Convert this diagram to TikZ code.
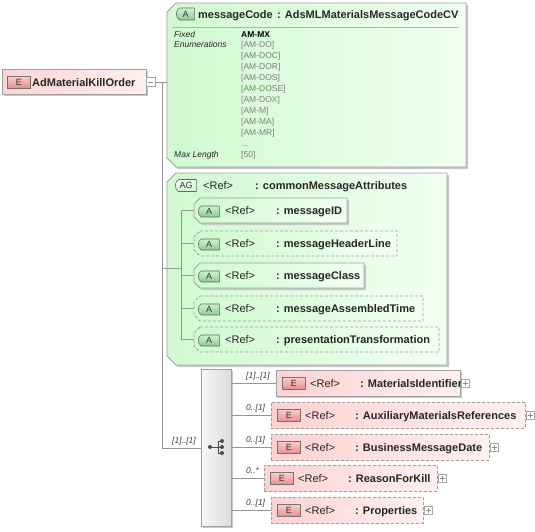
\documentclass[tikz,border=0pt]{standalone}
\usepackage{fontspec}
\setmainfont{Liberation Sans}
\usetikzlibrary{shapes.misc,shadows}
\definecolor{bordergray}{RGB}{160,160,160}
\definecolor{linegray}{RGB}{150,150,150}
\definecolor{greenL}{RGB}{208,250,208}
\definecolor{greenR}{RGB}{242,255,242}
\definecolor{pinkL}{RGB}{255,210,210}
\definecolor{pinkR}{RGB}{255,240,240}
\definecolor{ebadgeT}{RGB}{255,205,205}
\definecolor{ebadgeB}{RGB}{232,140,140}
\definecolor{abadgeT}{RGB}{205,242,205}
\definecolor{abadgeB}{RGB}{140,205,140}
\definecolor{valgray}{RGB}{125,125,125}
% chamfered box: name, x, y, w, h, chamfer, style
\newcommand{\chamferbox}[7]{%
  \path[#7] (#2+#6,#3) -- (#2+#4,#3) -- (#2+#4,#3+#5) -- (#2+#6,#3+#5)
    -- (#2,#3+#5-#6) -- (#2,#3+#6) -- cycle;
  \node[rectangle, inner sep=0pt, minimum width=#4, minimum height=#5, anchor=north west] (#1) at (#2,#3) {};}
\begin{document}
\begin{tikzpicture}[x=1pt,y=-1pt,
  box/.style={draw=bordergray, line width=0.8pt, inner sep=0pt, anchor=north west},
  solidshadow/.style={drop shadow={shadow xshift=2pt, shadow yshift=-2pt, fill=black!22, opacity=1}},
  dashbox/.style={dash pattern=on 3pt off 2pt},
  ebox/.style={box, rectangle, left color=pinkL, right color=pinkR},
  afill/.style={draw=bordergray, line width=0.8pt, left color=greenL, right color=greenR},
  seqbox/.style={box, rectangle, left color=black!3, right color=black!14},
  ebadge/.style={draw=black!55, line width=0.6pt, rectangle, inner sep=0pt, minimum width=23, minimum height=12,
    top color=ebadgeT, bottom color=ebadgeB, anchor=west, font=\fontsize{9}{10}\selectfont, text=black!80},
  abadge/.style={draw=black!60, line width=0.6pt, rounded rectangle, rounded rectangle right arc=none,
    rounded rectangle arc length=110, inner sep=0pt, minimum width=21, minimum height=11,
    top color=abadgeT, bottom color=abadgeB, anchor=west, font=\fontsize{9}{10}\selectfont, text=black!80},
  agbadge/.style={abadge, top color=greenR, bottom color=greenL, minimum height=12},
  nametext/.style={anchor=base west, inner sep=0pt, font=\bfseries\fontsize{11}{13}\selectfont, text=black!85},
  reftext/.style={anchor=base west, inner sep=0pt, font=\fontsize{11}{13}\selectfont, text=black!85},
  card/.style={anchor=west, inner sep=0pt, font=\itshape\fontsize{8.5}{10}\selectfont, text=black!75},
  proptext/.style={anchor=base west, inner sep=0pt, font=\itshape\fontsize{8.5}{10}\selectfont, text=black!85},
  valtext/.style={anchor=base west, inner sep=0pt, font=\fontsize{8.5}{10}\selectfont, text=valgray},
  conn/.style={draw=linegray, line width=0.7pt},
  pmbox/.style={draw=black!35, fill=white, line width=0.6pt, rectangle, inner sep=0pt, minimum size=8, anchor=west},
  minusbox/.style={pmbox, path picture={\draw[black!45, line width=0.6pt]
    ([xshift=-2.5pt]path picture bounding box.center) -- ([xshift=2.5pt]path picture bounding box.center);}},
  plusbox/.style={pmbox, path picture={\draw[black!45, line width=0.6pt]
    ([xshift=-2.5pt]path picture bounding box.center) -- ([xshift=2.5pt]path picture bounding box.center)
    ([yshift=-2.5pt]path picture bounding box.center) -- ([yshift=2.5pt]path picture bounding box.center);}}
]
\useasboundingbox (0,0) rectangle (535,531);
\fill[white] (0,0) rectangle (535,531);

% ---------- root element ----------
\node[ebox, solidshadow, minimum width=144, minimum height=25] (root) at (2,69) {};
\node[ebadge] (rootE) at (7,82) {E};
\node[nametext] (rootT) at (32,86) {AdMaterialKillOrder};
\node[minusbox, minimum size=9] (rootM) at (146,82) {};

% ---------- messageCode attribute ----------
\chamferbox{mc}{167}{3}{299}{164}{9}{afill, solidshadow}
\node[abadge, minimum width=18, minimum height=12] (mcA) at (176,14) {A};
\node[nametext] (mcN) at (198,18) {messageCode};
\node[nametext] (mcT) at (277,18) {: AdsMLMaterialsMessageCodeCV};
\coordinate (sepL) at (172,27);
\coordinate (sepR) at (459,27);
\draw[draw=black!30, line width=0.7pt] (sepL) -- (sepR);
\node[proptext] (pFixed) at (174,37) {Fixed};
\node[proptext] (pEnum) at (174,47) {Enumerations};
\node[proptext] (pMax) at (174,157) {Max Length};
\node[valtext, font=\bfseries\fontsize{8.5}{10}\selectfont, text=black] (v0) at (241,37) {AM-MX};
\node[valtext] (v1) at (241,47) {[AM-DO]};
\node[valtext] (v2) at (241,58) {[AM-DOC]};
\node[valtext] (v3) at (241,69) {[AM-DOR]};
\node[valtext] (v4) at (241,80) {[AM-DOS]};
\node[valtext] (v5) at (241,91) {[AM-DOSE]};
\node[valtext] (v6) at (241,102) {[AM-DOX]};
\node[valtext] (v7) at (241,113) {[AM-M]};
\node[valtext] (v8) at (241,124) {[AM-MA]};
\node[valtext] (v9) at (241,135) {[AM-MR]};
\node[valtext] (v10) at (241,146) {...};
\node[valtext] (v11) at (241,157) {[50]};

% ---------- attribute group ----------
\chamferbox{ag}{167}{173}{280}{192}{9}{afill, solidshadow}
\node[agbadge] (agB) at (175,185.5) {AG};
\node[reftext] (agR) at (203,189.5) {<Ref>};
\node[nametext] (agN) at (255,189.5) {: commonMessageAttributes};

\chamferbox{a1}{194}{198}{153}{25}{6}{afill, solidshadow}
\chamferbox{a2}{194}{231}{203}{25}{6}{afill, dashbox}
\chamferbox{a3}{194}{263}{170}{25}{6}{afill, solidshadow}
\chamferbox{a4}{194}{296}{229}{25}{6}{afill, dashbox}
\chamferbox{a5}{194}{327}{245}{25}{6}{afill, dashbox}

\node[abadge] (a1B) at (198,211.5) {A};
\node[reftext] (a1R) at (225,214.5) {<Ref>};
\node[nametext] (a1N) at (276,214.5) {: messageID};
\node[abadge] (a2B) at (198,244.5) {A};
\node[reftext] (a2R) at (225,247.5) {<Ref>};
\node[nametext] (a2N) at (276,247.5) {: messageHeaderLine};
\node[abadge] (a3B) at (198,276.5) {A};
\node[reftext] (a3R) at (225,279.5) {<Ref>};
\node[nametext] (a3N) at (276,279.5) {: messageClass};
\node[abadge] (a4B) at (198,309.5) {A};
\node[reftext] (a4R) at (225,312.5) {<Ref>};
\node[nametext] (a4N) at (276,312.5) {: messageAssembledTime};
\node[abadge] (a5B) at (198,340.5) {A};
\node[reftext] (a5R) at (225,343.5) {<Ref>};
\node[nametext] (a5N) at (276,343.5) {: presentationTransformation};

% ---------- sequence ----------
\node[seqbox, solidshadow, minimum width=30, minimum height=157] (seq) at (201,369) {};
\coordinate (sq0) at (210,447);
\coordinate (sq1) at (222,441);
\coordinate (sq2) at (222,447);
\coordinate (sq3) at (222,453);
\draw[black!70, line width=0.8pt] (sq0) -- (sq2) (218,441) -- (218,453) (218,441) -- (sq1) (218,453) -- (sq3);
\fill[black!70] (sq0) circle (2pt) (sq1) circle (2pt) (sq2) circle (2pt) (sq3) circle (2pt);

% ---------- child elements ----------
\node[ebox, solidshadow, minimum width=184, minimum height=26] (e1) at (276,370) {};
\node[ebox, dashbox, minimum width=254, minimum height=26] (e2) at (271,402) {};
\node[ebox, dashbox, minimum width=218, minimum height=26] (e3) at (271,434) {};
\node[ebox, dashbox, minimum width=173, minimum height=26] (e4) at (264,465) {};
\node[ebox, dashbox, minimum width=152, minimum height=26] (e5) at (271,497) {};

\node[ebadge] (e1B) at (282,383.5) {E};
\node[reftext] (e1R) at (310,387) {<Ref>};
\node[nametext] (e1N) at (360,387) {: MaterialsIdentifier};
\node[plusbox] (e1P) at (461,383.5) {};
\node[ebadge] (e2B) at (277,415.5) {E};
\node[reftext] (e2R) at (305,419) {<Ref>};
\node[nametext] (e2N) at (355,419) {: AuxiliaryMaterialsReferences};
\node[plusbox] (e2P) at (526,415.5) {};
\node[ebadge] (e3B) at (277,447.5) {E};
\node[reftext] (e3R) at (305,451) {<Ref>};
\node[nametext] (e3N) at (355,451) {: BusinessMessageDate};
\node[plusbox] (e3P) at (490,447.5) {};
\node[ebadge] (e4B) at (270,478.5) {E};
\node[reftext] (e4R) at (298,482) {<Ref>};
\node[nametext] (e4N) at (348,482) {: ReasonForKill};
\node[plusbox] (e4P) at (438,478.5) {};
\node[ebadge] (e5B) at (277,510.5) {E};
\node[reftext] (e5R) at (305,514) {<Ref>};
\node[nametext] (e5N) at (355,514) {: Properties};
\node[plusbox] (e5P) at (424,510.5) {};

% ---------- connectors ----------
\coordinate (j1) at (162,82);
\coordinate (agj) at (181,268);
\draw[conn] (rootM.east) -- (rootM.east -| mc.west);
\draw[conn] (j1) -- (j1 |- seq.west) -- (seq.west);
\draw[conn] (j1 |- agj) -- (agj);
\draw[conn] (agj |- a1.west) -- (agj |- a5.west);
\draw[conn] (agj |- a1.west) -- (a1.west);
\draw[conn] (agj |- a2.west) -- (a2.west);
\draw[conn] (agj |- a3.west) -- (a3.west);
\draw[conn] (agj |- a4.west) -- (a4.west);
\draw[conn] (agj |- a5.west) -- (a5.west);
\draw[conn] (seq.east |- e1.west) -- (e1.west);
\draw[conn] (seq.east |- e2.west) -- (e2.west);
\draw[conn] (seq.east |- e3.west) -- (e3.west);
\draw[conn] (seq.east |- e4.west) -- (e4.west);
\draw[conn] (seq.east |- e5.west) -- (e5.west);

% ---------- cardinalities ----------
\node[card] (c0) at (172,441) {[1]..[1]};
\node[card] (c1) at (246,376) {[1]..[1]};
\node[card] (c2) at (246,408) {0..[1]};
\node[card] (c3) at (246,440) {0..[1]};
\node[card] (c4) at (246,471) {0..*};
\node[card] (c5) at (246,503) {0..[1]};
\end{tikzpicture}
\end{document}
